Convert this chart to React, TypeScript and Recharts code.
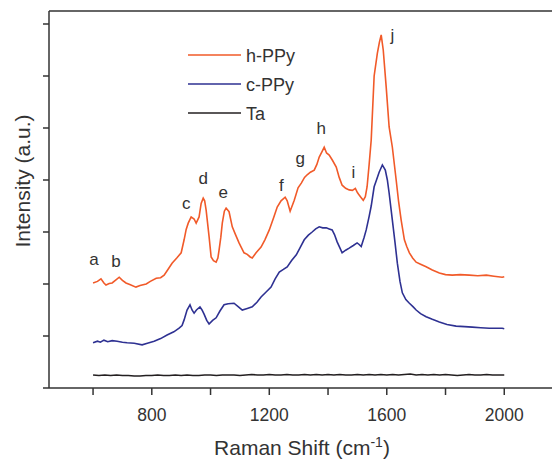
import { LineChart, Line, XAxis, YAxis, Legend, ReferenceDot, Label } from "recharts";

// Raman shift (cm-1) / intensity pairs
const hPPy = [
  [600, 2.02], [615, 2.05], [627, 2.1], [637, 2.02], [644, 1.98], [655, 2.01], [665, 2.02], [678, 2.08],
  [689, 2.13], [700, 2.07], [712, 2.02], [725, 1.99], [746, 1.94], [760, 1.97], [781, 2.0], [795, 2.05],
  [815, 2.11], [830, 2.12], [842, 2.17], [855, 2.28], [869, 2.4], [885, 2.5], [900, 2.6], [910, 2.85],
  [917, 3.05], [924, 3.17], [934, 3.29], [944, 3.25], [951, 3.17], [961, 3.29], [968, 3.55], [975, 3.65],
  [980, 3.6], [985, 3.42], [995, 2.91], [1002, 2.52], [1010, 2.45], [1019, 2.42], [1025, 2.5], [1029, 2.65],
  [1035, 2.9], [1040, 3.17], [1047, 3.4], [1053, 3.46], [1063, 3.39], [1074, 3.1], [1085, 2.95], [1097, 2.79],
  [1105, 2.7], [1114, 2.6], [1125, 2.57], [1135, 2.52], [1142, 2.5], [1155, 2.6], [1172, 2.71], [1185, 2.85],
  [1200, 3.04], [1215, 3.28], [1227, 3.48], [1240, 3.6], [1254, 3.67], [1261, 3.6], [1271, 3.4], [1285, 3.61],
  [1298, 3.85], [1309, 3.94], [1320, 4.05], [1329, 4.1], [1340, 4.15], [1353, 4.19], [1362, 4.3], [1370, 4.44],
  [1380, 4.55], [1387, 4.63], [1395, 4.52], [1404, 4.48], [1415, 4.38], [1428, 4.25], [1438, 4.05], [1448, 3.9],
  [1460, 3.84], [1472, 3.81], [1483, 3.8], [1493, 3.84], [1500, 3.76], [1506, 3.71], [1513, 3.66], [1520, 3.61],
  [1527, 3.68], [1533, 3.87], [1540, 4.3], [1547, 4.77], [1557, 6.0], [1568, 6.44], [1575, 6.65], [1581, 6.79],
  [1588, 6.5], [1598, 5.79], [1608, 5.02], [1619, 4.63], [1632, 4.0], [1640, 3.6], [1649, 3.23], [1660, 2.85],
  [1668, 2.72], [1677, 2.6], [1688, 2.5], [1700, 2.42], [1715, 2.38], [1734, 2.33], [1755, 2.27], [1779, 2.21],
  [1800, 2.18], [1823, 2.17], [1850, 2.18], [1881, 2.17], [1910, 2.16], [1939, 2.17], [1965, 2.15], [1993, 2.13],
  [2000, 2.14],
];

const cPPy = [
  [600, 0.87], [615, 0.9], [625, 0.88], [637, 0.92], [650, 0.89], [665, 0.91], [682, 0.9], [700, 0.88],
  [716, 0.87], [740, 0.86], [767, 0.83], [785, 0.86], [808, 0.9], [830, 0.95], [852, 1.02], [875, 1.08],
  [893, 1.15], [903, 1.2], [910, 1.31], [920, 1.5], [930, 1.6], [937, 1.5], [944, 1.44], [952, 1.5],
  [964, 1.56], [971, 1.5], [978, 1.42], [987, 1.3], [995, 1.23], [1007, 1.3], [1019, 1.35], [1032, 1.48],
  [1046, 1.6], [1060, 1.62], [1080, 1.63], [1095, 1.56], [1108, 1.5], [1125, 1.53], [1142, 1.56], [1158, 1.65],
  [1172, 1.75], [1190, 1.85], [1206, 1.94], [1220, 2.1], [1234, 2.23], [1248, 2.28], [1261, 2.33], [1276, 2.45],
  [1292, 2.56], [1305, 2.7], [1319, 2.85], [1333, 2.94], [1346, 3.0], [1358, 3.06], [1370, 3.1], [1382, 3.08],
  [1394, 3.08], [1404, 3.06], [1414, 3.04], [1422, 2.95], [1431, 2.81], [1440, 2.7], [1448, 2.6], [1460, 2.65],
  [1472, 2.69], [1486, 2.74], [1499, 2.79], [1506, 2.76], [1513, 2.72], [1523, 2.9], [1530, 3.04], [1540, 3.3],
  [1547, 3.5], [1557, 3.87], [1565, 4.0], [1574, 4.15], [1585, 4.29], [1595, 4.19], [1602, 4.0], [1608, 3.75],
  [1619, 3.23], [1628, 2.8], [1636, 2.4], [1645, 2.05], [1653, 1.83], [1665, 1.7], [1677, 1.63], [1690, 1.56],
  [1700, 1.5], [1715, 1.43], [1734, 1.37], [1755, 1.32], [1779, 1.27], [1805, 1.22], [1836, 1.19], [1865, 1.18],
  [1891, 1.17], [1920, 1.16], [1949, 1.15], [1975, 1.15], [1993, 1.15], [2000, 1.14],
];

const ta = [
  [600, 0.25], [620, 0.24], [640, 0.25], [660, 0.24], [680, 0.25], [700, 0.24], [720, 0.24], [740, 0.23],
  [760, 0.23], [780, 0.24], [800, 0.24], [820, 0.25], [840, 0.24], [860, 0.24], [880, 0.25], [900, 0.24],
  [920, 0.25], [940, 0.24], [960, 0.24], [980, 0.25], [1000, 0.25], [1020, 0.24], [1040, 0.25], [1060, 0.25],
  [1080, 0.25], [1100, 0.24], [1120, 0.25], [1140, 0.26], [1160, 0.25], [1180, 0.25], [1200, 0.26], [1220, 0.25],
  [1240, 0.25], [1260, 0.26], [1280, 0.25], [1300, 0.25], [1320, 0.26], [1340, 0.25], [1360, 0.26], [1380, 0.25],
  [1400, 0.26], [1420, 0.25], [1440, 0.26], [1460, 0.25], [1480, 0.25], [1500, 0.26], [1520, 0.25], [1540, 0.26],
  [1560, 0.25], [1580, 0.26], [1600, 0.25], [1620, 0.26], [1640, 0.25], [1660, 0.26], [1680, 0.27], [1700, 0.25],
  [1720, 0.26], [1740, 0.25], [1760, 0.26], [1780, 0.25], [1800, 0.26], [1820, 0.25], [1840, 0.24], [1860, 0.25],
  [1880, 0.26], [1900, 0.25], [1920, 0.25], [1940, 0.26], [1960, 0.25], [1980, 0.25], [2000, 0.25],
];

const peakLabels = ["a", "b", "c", "d", "e", "f", "g", "h", "i", "j"];
const peakX = [603, 678, 917, 975, 1043, 1241, 1305, 1377, 1486, 1619];
const peakY = [2.48, 2.44, 3.56, 4.04, 3.77, 3.9, 4.42, 5.0, 4.15, 6.79];

const xTicks = [600, 800, 1000, 1200, 1400, 1600, 1800, 2000];
const yTicks = [0, 1, 2, 3, 4, 5, 6, 7];
const xMin = 450;
const xMax = 2200;
const yMax = 7.25;

const series = [
  { name: "h-PPy", color: "#f15a29", data: hPPy },
  { name: "c-PPy", color: "#2e3192", data: cPPy },
  { name: "Ta", color: "#231f20", data: ta },
];

const FONT = "'Liberation Sans', Arial, sans-serif";
const AXIS = "#333";

const toRows = (pts: number[][]) => pts.map(([x, y]) => ({ x, y }));

const BottomTick = (props: any) => {
  const { x, y, payload } = props;
  if (payload.value % 400 !== 0) return <g />;
  return (
    <text x={x} y={y + 24} textAnchor="middle" fontSize={17.5} fill="#333" fontFamily={FONT}>
      {payload.value}
    </text>
  );
};

// y-axis title, plus the top frame line drawn along the top of the plot box
const YTitle = (props: any) => {
  const vb = props.viewBox || { x: 0, y: 11, width: 49 };
  const top = vb.y;
  const left = vb.x + vb.width;
  return (
    <g>
      <line x1={left} x2={600} y1={top} y2={top} stroke={AXIS} strokeWidth={1.5} />
      <text
        x={30}
        y={181}
        transform="rotate(-90 30 181)"
        textAnchor="middle"
        fontSize={21}
        fill="#333"
        fontFamily={FONT}
      >
        Intensity (a.u.)
      </text>
    </g>
  );
};

const LegendBox = () => (
  <svg width={130} height={90}>
    {series.map((s, i) => (
      <g key={s.name}>
        <line x1={8} x2={61} y1={15 + i * 29} y2={15 + i * 29} stroke={s.color} strokeWidth={1.6} />
        <text x={66} y={22 + i * 29} fontSize={18} fill="#333" fontFamily={FONT}>
          {s.name}
        </text>
      </g>
    ))}
  </svg>
);

export default function App() {
  return (
    <div style={{ position: "absolute", left: 0, top: 0, width: 552, height: 461, overflow: "hidden", background: "#fff" }}>
      <LineChart width={570} height={461} margin={{ top: 11, right: 7, bottom: 0, left: 0 }}>
        <XAxis
          dataKey="x"
          type="number"
          domain={[xMin, xMax]}
          ticks={xTicks}
          allowDataOverflow
          height={73}
          tickSize={7}
          tick={BottomTick}
          stroke={AXIS}
          strokeWidth={1.5}
        >
          <Label
            content={() => (
              <text x={302} y={455} textAnchor="middle" fontSize={21} fill="#333" fontFamily={FONT}>
                Raman Shift (cm
                <tspan dy={-8} fontSize={14}>-1</tspan>
                <tspan dy={8}>)</tspan>
              </text>
            )}
          />
        </XAxis>
        <YAxis
          type="number"
          domain={[0, yMax]}
          ticks={yTicks}
          allowDataOverflow
          width={49}
          tickSize={6}
          tick={() => <g />}
          stroke={AXIS}
          strokeWidth={1.5}
        >
          <Label content={YTitle} />
        </YAxis>
        {series.map((s) => (
          <Line
            key={s.name}
            name={s.name}
            data={toRows(s.data)}
            dataKey="y"
            type="linear"
            stroke={s.color}
            strokeWidth={1.6}
            dot={false}
            activeDot={false}
            isAnimationActive={false}
          />
        ))}
        {peakLabels.map((p, i) => (
          <ReferenceDot
            key={p}
            x={peakX[i]}
            y={peakY[i]}
            r={0}
            stroke="none"
            label={{ value: p, position: "center", fontSize: 17, fill: "#333", fontFamily: FONT }}
          />
        ))}
        <Legend
          layout="vertical"
          align="center"
          verticalAlign="middle"
          content={LegendBox}
          wrapperStyle={{ position: "absolute", left: 180, top: 40, width: 130, height: 90 }}
        />
      </LineChart>
    </div>
  );
}
